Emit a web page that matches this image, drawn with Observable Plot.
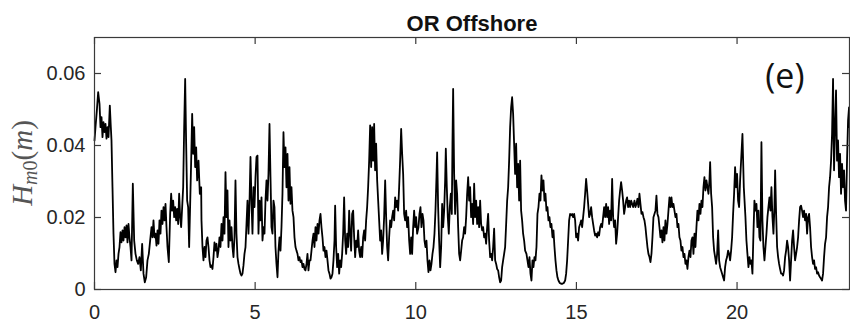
<!DOCTYPE html>
<html>
<head>
<meta charset="utf-8">
<script src="https://cdn.jsdelivr.net/npm/d3@7"></script>
<script src="https://cdn.jsdelivr.net/npm/@observablehq/plot@0.6"></script>
<style>
  html, body { margin: 0; padding: 0; background: #fff; }
</style>
</head>
<body>
<div id="chart"></div>
<script>
// Time since start of record (days)
const day = [
  0.000,0.031,0.073,0.114,0.156,0.187,0.218,0.249,0.280,0.311,0.342,0.374,0.405,0.436,0.477,0.508,0.529,0.560,0.591,0.622,
  0.654,0.685,0.716,0.747,0.778,0.809,0.840,0.871,0.903,0.934,0.965,0.996,1.027,1.058,1.089,1.120,1.152,1.193,1.235,1.276,
  1.318,1.359,1.400,1.442,1.483,1.525,1.566,1.608,1.649,1.691,1.732,1.774,1.805,1.836,1.867,1.899,1.930,1.961,1.992,2.023,
  2.054,2.085,2.116,2.148,2.179,2.210,2.241,2.272,2.313,2.355,2.386,2.417,2.448,2.480,2.511,2.542,2.573,2.604,2.635,2.666,
  2.697,2.729,2.760,2.791,2.822,2.853,2.884,2.915,2.946,2.978,3.009,3.040,3.071,3.102,3.133,3.164,3.195,3.237,3.278,3.320,
  3.330,3.361,3.392,3.424,3.455,3.486,3.517,3.548,3.579,3.610,3.641,3.672,3.704,3.735,3.766,3.797,3.828,3.859,3.890,3.921,
  3.953,3.984,4.015,4.046,4.077,4.108,4.139,4.170,4.202,4.233,4.264,4.295,4.326,4.357,4.388,4.419,4.451,4.482,4.513,4.544,
  4.575,4.606,4.637,4.668,4.700,4.731,4.762,4.793,4.824,4.855,4.886,4.917,4.949,4.980,5.011,5.042,5.073,5.104,5.135,5.166,
  5.198,5.229,5.260,5.291,5.322,5.353,5.384,5.415,5.447,5.478,5.509,5.540,5.571,5.602,5.633,5.664,5.696,5.727,5.758,5.789,
  5.820,5.851,5.882,5.913,5.945,5.976,6.007,6.038,6.069,6.100,6.131,6.162,6.194,6.225,6.256,6.287,6.318,6.349,6.380,6.411,
  6.443,6.474,6.505,6.536,6.567,6.598,6.629,6.660,6.692,
  6.723,6.754,6.785,6.816,6.847,6.878,6.909,6.941,6.972,7.003,7.034,7.065,7.096,7.127,7.158,7.190,7.221,7.252,7.283,7.314,
  7.345,7.376,7.407,7.438,7.470,7.490,7.521,7.553,7.584,7.615,7.646,7.677,7.708,7.739,7.770,7.802,7.833,7.864,7.895,7.926,
  7.957,7.988,8.019,8.051,8.082,8.113,8.144,8.175,8.206,8.237,8.268,8.300,8.331,8.362,8.393,8.424,8.455,8.486,8.517,8.549,
  8.580,8.611,8.642,8.673,8.704,8.735,8.766,8.798,8.829,8.860,8.891,8.922,8.953,8.984,9.015,9.047,9.078,9.109,9.140,9.171,
  9.202,9.233,9.264,9.296,9.327,9.358,9.389,9.420,9.451,9.482,9.513,9.545,9.576,9.607,9.638,9.669,9.700,9.731,9.762,9.794,
  9.825,9.856,9.887,9.918,9.949,9.980,10.011,10.042,
  10.084,10.115,10.146,10.177,10.209,10.240,10.271,10.302,10.333,10.364,10.395,10.426,10.458,10.489,10.520,10.551,10.582,10.613,10.644,10.665,
  10.696,10.727,10.759,10.790,10.821,10.852,10.883,10.914,10.935,10.966,10.997,11.028,11.059,11.090,11.121,11.142,11.163,11.194,11.225,11.256,
  11.287,11.319,11.350,11.381,11.412,11.443,11.474,11.505,11.536,11.568,11.599,11.630,11.661,11.692,11.723,11.754,11.785,11.817,11.848,11.879,
  11.910,11.941,11.972,12.003,12.034,12.066,12.097,12.128,12.159,12.190,12.221,12.252,12.283,12.315,12.346,12.377,12.408,12.439,12.470,12.502,
  12.533,12.564,12.595,12.626,12.657,12.688,12.719,12.750,12.781,12.813,12.844,12.875,12.906,12.937,12.968,12.999,13.030,13.061,13.092,13.124,
  13.155,13.186,13.217,13.248,13.279,13.310,13.341,13.373,13.404,
  13.445,13.476,13.508,13.539,13.570,13.601,13.632,13.663,13.694,13.725,13.757,13.788,13.819,13.850,13.881,13.912,13.943,13.974,14.006,14.037,
  14.068,14.099,14.130,14.161,14.192,14.223,14.255,14.286,14.317,14.348,14.379,14.410,14.441,14.483,14.524,14.566,14.607,14.649,14.680,14.711,
  14.742,14.773,14.804,14.835,14.867,14.898,14.929,14.960,14.991,15.022,15.053,15.084,15.116,15.147,15.178,15.209,15.240,15.271,15.302,15.333,
  15.365,15.396,15.427,15.458,15.489,15.520,15.551,15.582,15.614,15.645,15.676,15.707,15.738,15.769,15.800,15.831,15.863,15.894,15.925,15.956,
  15.987,16.018,16.049,16.080,16.112,16.143,16.174,16.205,16.236,16.267,16.298,16.329,16.360,16.391,16.423,16.454,16.485,16.516,16.547,16.578,
  16.609,16.640,16.672,16.703,16.734,16.765,
  16.807,16.838,16.869,16.900,16.931,16.962,16.993,17.025,17.056,17.087,17.118,17.149,17.180,17.211,17.242,17.274,17.305,17.336,17.367,17.398,
  17.429,17.460,17.491,17.522,17.554,17.585,17.616,17.647,17.678,17.709,17.740,17.771,17.803,17.834,17.865,17.896,17.927,17.958,17.989,18.020,
  18.052,18.083,18.114,18.145,18.176,18.207,18.238,18.269,18.301,18.332,18.363,18.394,18.425,18.456,18.487,18.518,18.550,18.581,18.612,18.643,
  18.674,18.705,18.736,18.767,18.799,18.830,18.861,18.892,18.923,18.954,18.985,19.016,19.048,19.079,19.110,19.141,19.162,19.193,19.224,19.255,
  19.286,19.317,19.348,19.380,19.411,19.442,19.473,19.504,19.535,19.566,19.597,19.628,19.659,19.690,19.721,19.753,19.784,19.815,19.846,19.877,
  19.908,19.939,19.970,20.001,20.032,20.064,20.095,
  20.168,20.210,20.261,20.292,20.323,20.355,20.386,20.417,20.448,20.479,20.510,20.541,20.572,20.604,20.635,20.666,20.697,20.728,20.759,20.790,
  20.821,20.853,20.884,20.915,20.946,20.977,21.008,21.039,21.070,21.102,21.133,21.164,21.185,21.216,21.247,21.278,21.309,21.340,21.371,21.402,
  21.433,21.464,21.496,21.527,21.558,21.589,21.620,21.651,21.682,21.713,21.744,21.775,21.806,21.838,21.869,21.900,21.931,21.962,21.993,22.024,
  22.055,22.086,22.117,22.149,22.180,22.211,22.242,22.273,22.304,22.335,22.366,22.397,22.428,22.460,22.491,22.522,22.553,22.584,22.615,22.646,
  22.677,22.708,22.739,22.771,22.802,22.833,22.864,22.895,22.926,22.957,22.988,23.019,23.050,23.081,23.112,23.143,23.174,23.206,23.237,23.268,
  23.299,23.330,23.361,23.392,23.423,23.455,23.486,23.500
];

// Spectral significant wave height Hm0 (millimetres)
const hm0mm = [
  41.4,45.1,49.7,54.8,51.6,45.1,47.9,42.3,46.5,43.7,46.0,41.9,45.1,42.3,51.1,45.1,41.4,28.4,15.5,7.1,
  4.8,8.1,6.2,9.9,11.8,15.9,13.1,16.4,13.6,17.3,14.5,17.8,13.1,18.2,14.5,11.8,8.1,29.4,13.6,9.9,
  8.1,7.1,9.0,5.3,12.7,4.4,2.0,3.4,8.1,9.9,13.6,17.3,14.5,19.2,14.5,15.5,12.2,16.4,12.7,19.2,
  15.5,21.9,18.2,22.9,19.2,23.8,17.3,11.8,7.6,21.0,26.6,21.9,24.7,20.1,22.9,19.2,22.4,18.2,26.6,20.1,
  17.3,22.9,28.4,45.1,58.5,40.5,24.7,22.9,11.8,23.8,35.8,48.8,37.7,45.1,34.0,39.5,30.3,35.8,26.6,28.4,
  19.2,11.8,8.1,11.8,9.0,13.6,14.5,11.8,8.1,6.2,6.7,5.7,9.0,13.1,10.8,12.7,9.0,10.8,14.5,11.8,
  18.2,13.6,20.1,15.5,32.6,20.1,27.5,11.8,19.2,13.6,17.3,11.8,9.0,14.5,30.3,15.5,9.0,7.1,5.7,4.4,
  3.9,4.4,6.7,9.9,11.8,18.2,24.7,15.5,23.8,36.8,24.7,15.5,28.4,22.9,31.2,36.8,37.2,15.5,24.7,19.2,
  25.6,13.6,17.3,15.5,24.7,30.3,24.7,32.1,46.0,31.2,17.3,15.5,24.7,22.9,11.8,7.1,3.4,10.8,14.5,10.8,
  17.3,26.6,43.7,34.0,39.5,28.4,37.7,24.7,34.0,23.8,28.4,21.9,20.1,14.5,11.8,10.8,9.9,8.1,9.0,7.6,
  8.1,6.2,7.1,5.7,5.3,7.1,9.9,5.3,8.1,
  8.1,10.8,13.6,15.5,11.8,17.3,13.6,18.2,15.5,19.2,21.0,17.3,14.5,10.8,11.8,9.0,10.8,8.1,5.3,4.4,
  3.0,3.4,4.4,8.1,13.6,23.3,11.8,6.2,9.9,4.4,8.1,6.2,9.9,15.5,25.6,13.6,9.9,15.5,11.8,21.9,
  15.5,10.8,21.0,21.9,14.5,9.0,13.6,11.8,16.4,10.8,9.0,11.8,9.0,14.5,16.4,13.6,19.2,22.9,28.4,35.8,
  45.6,34.0,45.1,35.8,46.0,33.1,40.5,30.3,24.7,19.2,13.6,16.4,9.9,13.6,20.1,30.3,20.1,11.8,8.1,14.5,
  19.2,17.3,20.1,21.9,19.2,25.6,22.9,24.7,21.9,28.4,35.8,44.6,37.7,32.1,21.0,19.2,21.9,17.3,20.1,13.6,
  9.9,14.5,9.9,17.3,21.9,17.3,20.1,15.5,
  17.3,21.0,22.9,17.3,21.0,19.2,13.6,11.8,13.6,8.1,4.8,8.1,5.3,7.1,9.9,11.8,15.5,21.9,31.2,38.1,
  22.9,13.6,6.2,11.8,23.8,17.3,21.9,30.3,39.1,28.4,20.1,15.5,22.9,26.6,21.0,40.5,55.7,32.1,21.0,30.3,
  26.6,17.3,9.9,8.1,10.8,13.6,14.5,17.3,15.5,20.1,26.6,31.2,24.7,28.4,20.1,23.8,18.2,29.4,20.1,24.7,
  18.2,22.9,17.3,24.7,18.2,16.4,17.3,14.5,15.5,12.7,17.3,21.0,13.6,9.0,9.9,8.1,11.8,16.9,8.1,7.1,
  5.7,5.3,3.4,2.0,2.5,6.2,8.1,9.9,11.8,18.2,24.7,28.4,35.8,45.1,50.6,53.4,48.8,40.5,32.1,40.5,
  28.4,34.9,24.7,35.8,21.9,19.2,15.5,13.6,10.8,
  9.9,8.1,6.2,9.0,4.4,2.5,8.1,6.2,9.0,8.1,11.8,21.0,22.9,26.6,24.7,31.7,27.5,30.3,24.7,26.6,
  21.9,22.9,19.2,20.1,17.3,18.2,14.5,16.4,11.8,8.1,5.3,3.4,2.5,1.8,1.6,1.6,1.8,2.5,4.4,8.1,
  13.6,19.2,21.0,20.6,21.0,20.1,21.0,19.2,14.5,15.5,13.6,17.3,18.2,19.2,17.3,20.1,22.9,26.6,30.7,27.5,
  23.8,20.1,21.0,22.9,20.1,18.2,16.4,15.0,15.5,14.5,15.9,15.0,17.3,18.2,17.3,20.1,22.9,20.1,23.8,20.1,
  22.9,18.2,21.9,19.2,30.7,20.1,17.3,19.2,12.7,15.5,20.1,24.7,27.5,29.8,27.5,24.7,21.0,22.9,24.7,25.6,
  22.9,24.7,22.9,24.7,23.8,22.9,
  24.7,22.9,23.8,25.2,22.9,26.6,23.8,21.0,21.5,20.1,19.2,17.3,14.5,11.8,9.9,9.0,7.6,9.9,14.5,20.1,
  21.0,21.9,26.1,21.0,20.1,17.3,14.5,16.4,13.1,17.3,13.6,19.2,15.5,18.2,21.9,25.6,22.9,25.6,22.9,23.8,
  21.9,20.1,21.0,17.3,18.2,14.5,13.6,10.8,11.8,9.0,9.9,7.1,8.1,5.7,9.0,10.8,9.0,13.6,14.5,9.9,
  15.5,11.8,17.3,21.9,19.2,23.8,21.0,24.7,22.9,28.4,31.2,27.5,30.3,28.4,26.6,30.3,35.4,26.6,22.9,14.5,
  10.8,9.0,7.1,9.9,16.4,8.1,6.2,5.3,4.4,3.4,2.5,6.2,8.1,9.0,10.8,9.9,8.1,10.8,14.5,21.0,
  26.6,34.0,28.4,32.1,24.7,22.9,30.3,
  43.2,28.4,20.1,13.6,9.9,6.2,9.0,7.1,8.1,4.4,15.5,24.7,21.9,23.8,17.3,21.9,14.5,13.6,40.9,19.2,
  11.8,8.1,11.8,15.5,20.1,22.9,25.6,21.9,28.4,20.1,15.5,22.9,33.1,21.0,11.8,9.0,7.1,5.7,4.4,4.4,
  3.9,5.3,9.0,10.8,13.6,11.8,8.1,2.5,8.1,13.6,16.4,11.8,8.1,9.9,11.8,14.5,19.2,22.9,23.3,21.9,
  20.1,21.9,19.2,21.0,15.5,20.1,21.0,17.3,11.8,9.0,7.1,8.1,5.7,6.2,4.4,4.8,3.9,3.4,3.0,2.5,
  4.4,9.0,12.7,14.5,20.1,22.9,28.4,31.2,35.8,43.2,58.5,33.1,45.1,55.3,35.8,41.4,31.2,37.7,26.6,34.9,
  28.4,33.1,24.7,21.9,35.8,46.9,50.6,45.1
];

const xTicks = [0, 5, 10, 15, 20];
const yTicks = [0, 0.02, 0.04, 0.06];
const xDomain = [0, 23.5];
const yDomain = [0, 0.07];
const title = "OR Offshore";
const panelTag = "(e)";

const series = day.map((d, i) => ({day: d, hm0: hm0mm[i] / 1000}));

// Layout
const W = 850, H = 322;
const M = {top: 37, right: 1, bottom: 33, left: 94};
const frameW = W - M.left - M.right;
const frameH = H - M.top - M.bottom;
const tickLen = 7; // inward box ticks

const chart = Plot.plot({
  width: W,
  height: H,
  marginLeft: M.left,
  marginRight: M.right,
  marginTop: M.top,
  marginBottom: M.bottom,
  style: {
    fontFamily: "'Liberation Sans', Arial, sans-serif",
    fontSize: "20px",
    color: "#262626",
    background: "#fff",
    overflow: "visible"
  },
  x: {domain: xDomain},
  y: {domain: yDomain},
  marks: [
    Plot.line(series, {x: "day", y: "hm0", stroke: "#000", strokeWidth: 1.8}),
    Plot.frame({stroke: "#3a3a3a", strokeWidth: 1.2}),
    // inward ticks on all four sides of the box
    Plot.tickX(xTicks, {x: d => d, insetTop: frameH - tickLen, stroke: "#3a3a3a", strokeWidth: 1.2}),
    Plot.tickX(xTicks, {x: d => d, insetBottom: frameH - tickLen, stroke: "#3a3a3a", strokeWidth: 1.2}),
    Plot.tickY(yTicks, {y: d => d, insetRight: frameW - tickLen, stroke: "#3a3a3a", strokeWidth: 1.2}),
    Plot.tickY(yTicks, {y: d => d, insetLeft: frameW - tickLen, stroke: "#3a3a3a", strokeWidth: 1.2}),
    // tick labels
    Plot.axisX({ticks: xTicks, anchor: "bottom", tickSize: 0, tickPadding: 15, tickFormat: d => String(d), label: null}),
    Plot.axisY({ticks: yTicks, anchor: "left", tickSize: 0, tickPadding: 9, tickFormat: d => String(d), label: null}),
    Plot.text([title], {frameAnchor: "top", lineAnchor: "bottom", dy: -7, fontWeight: "bold", fontSize: 22, fill: "#111"}),
    Plot.text([panelTag], {frameAnchor: "top-right", textAnchor: "end", lineAnchor: "top", dx: -45, dy: 26, fontSize: 34, fontFamily: "'Open Sans', sans-serif", fill: "#111"})
  ]
});

// Y-axis label H_m0(m), set with a subscript, centred on the plot frame
const yRange = chart.scale("y").range;
const yMid = (yRange[0] + yRange[1]) / 2;
const yl = d3.select(chart).append("text")
  .attr("transform", `translate(32,${yMid}) rotate(-90)`)
  .attr("text-anchor", "middle")
  .attr("font-family", "'Liberation Serif', 'Times New Roman', serif")
  .attr("font-size", 29)
  .attr("fill", "#555");
yl.append("tspan").attr("font-style", "italic").text("H");
yl.append("tspan").attr("font-style", "italic").attr("font-size", 20).attr("dy", 5).text("m");
yl.append("tspan").attr("font-size", 20).text("0");
yl.append("tspan").attr("dy", -5).text("(");
yl.append("tspan").attr("font-style", "italic").text("m");
yl.append("tspan").text(")");

document.getElementById("chart").appendChild(chart);
</script>
</body>
</html>
